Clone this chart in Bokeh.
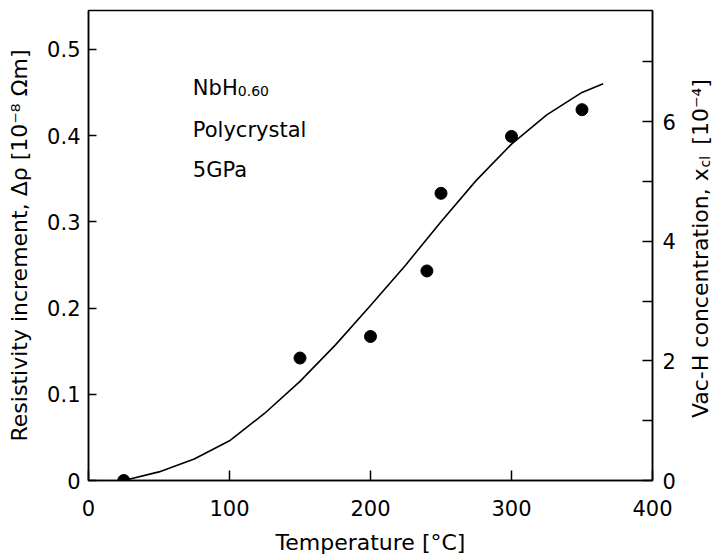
import math
from bokeh.plotting import figure
from bokeh.layouts import row
from bokeh.models import Range1d, LinearAxis, FixedTicker, CustomJSTickFormatter, Label
from bokeh.core.properties import value
from bokeh.embed import file_html
from bokeh.resources import INLINE

# ---- data ----
temps = [25, 150, 200, 240, 250, 300, 350]
rho = [0.0, 0.142, 0.167, 0.243, 0.333, 0.399, 0.430]

curve_T = [25, 50, 75, 100, 125, 150, 175, 200, 225, 250, 275, 300, 325, 350, 365]
curve_rho = [0.0, 0.010, 0.025, 0.046, 0.078, 0.115, 0.157, 0.203, 0.250, 0.300,
             0.348, 0.390, 0.424, 0.450, 0.460]

x_ticks = [0, 100, 200, 300, 400]
y_ticks = [0, 0.1, 0.2, 0.3, 0.4, 0.5]
y2_ticks = [0, 1, 2, 3, 4, 5, 6, 7]

FONT = "DejaVu Sans"
FS = "21px"
FSL = "22px"

MAIN_W = 680
H = 557

p = figure(width=MAIN_W, height=H, output_backend="svg", toolbar_location=None,
           x_range=Range1d(0, 400), y_range=Range1d(0, 0.545),
           min_border_left=88, min_border_right=28, min_border_top=10,
           min_border_bottom=77)
p.extra_y_ranges = {"vac": Range1d(0, 7.86)}
p.grid.visible = False
p.outline_line_color = "black"
p.outline_line_width = 1.5
p.background_fill_color = "white"
p.border_fill_color = "white"

def style_axis(ax, tick_len):
    ax.axis_line_color = "black"
    ax.axis_line_width = 1.5
    ax.major_tick_line_color = "black"
    ax.major_tick_line_width = 1.5
    ax.major_tick_in = tick_len
    ax.major_tick_out = 0
    ax.minor_tick_line_color = None
    ax.major_label_text_font = FONT
    ax.major_label_text_font_size = FS
    ax.major_label_text_color = "black"
    ax.axis_label_text_font = FONT
    ax.axis_label_text_font_size = FSL
    ax.axis_label_text_font_style = "normal"
    ax.axis_label_text_color = "black"

# bottom axis
xa = p.xaxis[0]
style_axis(xa, 10)
xa.ticker = FixedTicker(ticks=x_ticks)
xa.axis_label = "Temperature [°C]"
xa.major_label_standoff = 19
xa.axis_label_standoff = 11

# left axis
ya = p.yaxis[0]
style_axis(ya, 8)
ya.ticker = FixedTicker(ticks=y_ticks)
ya.formatter = CustomJSTickFormatter(code="return tick == 0 ? '0' : tick.toFixed(1);")
ya.axis_label = "Resistivity increment, Δρ [10⁻⁸ Ωm]"
ya.major_label_standoff = 8
ya.axis_label_standoff = 12

# right axis
ra = LinearAxis(y_range_name="vac")
style_axis(ra, 10)
ra.ticker = FixedTicker(ticks=y2_ticks)
ra.formatter = CustomJSTickFormatter(code="return (Math.round(tick) % 2 == 0) ? tick.toFixed(0) : '';")
ra.major_label_standoff = 10
p.add_layout(ra, "right")

# curve and points
p.line(curve_T, curve_rho, line_color="black", line_width=1.6)
p.scatter(temps, rho, marker="circle", size=12, fill_color="black", line_color="black")

# annotation texts inside the plot
def lab(x, y, text, size=FS, **kw):
    p.add_layout(Label(x=x, y=y, text=text, text_font=FONT, text_font_size=size,
                       text_color="black", **kw))

lab(74, 0.455, "NbH", text_baseline="alphabetic")
lab(74, 0.455, "0.60", size="14px", x_offset=45, y_offset=-3, text_baseline="alphabetic")
lab(74, 0.406, "Polycrystal", text_baseline="alphabetic")
lab(74, 0.360, "5GPa", text_baseline="alphabetic")

# ---- narrow strip holding the right axis title (with subscript) ----
SIDE_W = 714 - MAIN_W
p2 = figure(width=SIDE_W, height=H, output_backend="svg", toolbar_location=None,
            x_range=Range1d(0, SIDE_W), y_range=Range1d(0, H),
            min_border_left=0, min_border_right=0, min_border_top=0, min_border_bottom=0)
p2.axis.visible = False
p2.grid.visible = False
p2.outline_line_color = None
p2.background_fill_color = "white"
p2.border_fill_color = "white"

cx = 20          # centre of the rotated text column, px from strip's left
split_y = H - 187  # where "x" ends / "cl" begins, px from bottom
p2.text(x=[cx], y=[split_y], text=["Vac-H concentration, x"], angle=math.pi / 2,
        text_font=value(FONT), text_font_size=FSL, text_color="black",
        text_align="right", text_baseline="middle")
p2.text(x=[cx + 4], y=[split_y + 1], text=["cl"], angle=math.pi / 2,
        text_font=value(FONT), text_font_size="14px", text_color="black",
        text_align="left", text_baseline="middle")
p2.text(x=[cx], y=[split_y + 28], text=["[10⁻⁴]"], angle=math.pi / 2,
        text_font=value(FONT), text_font_size=FSL, text_color="black",
        text_align="left", text_baseline="middle")

layout = row(p, p2, spacing=0)
open("out.html", "w").write(file_html(layout, INLINE))
